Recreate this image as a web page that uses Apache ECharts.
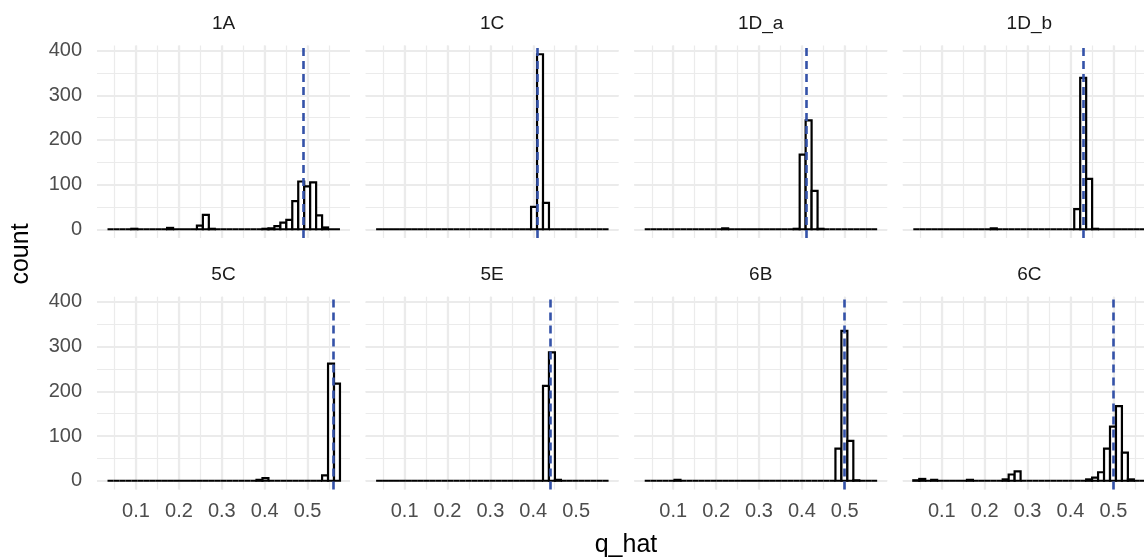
<!DOCTYPE html>
<html>
<head>
<meta charset="utf-8">
<title>q_hat histograms</title>
<script src="https://cdn.jsdelivr.net/npm/echarts@6/dist/echarts.min.js"></script>
<style>
  html, body { margin: 0; padding: 0; background: #fff; overflow: hidden; }
  #chart { width: 1144px; height: 559px; }
</style>
</head>
<body>
<div id="chart"></div>
<script>
// facet labels, row by row
const panels = ['1A', '1C', '1D_a', '1D_b', '5C', '5E', '6B', '6C'];

// 39 equal bins shared by every panel
const binStart = 0.0335;
const binWidth = 0.0139;

// counts per bin
const counts1A = [0,0,0,0,1, 0,0,0,0,0, 3,0,0,0,0, 8,32,1,0,0, 0,0,0,0,0, 0,1,2,7,15, 21,63,107,96,105, 31,4,0,0];
const counts1C = [0,0,0,0,0, 0,0,0,0,0, 0,0,0,0,0, 0,0,0,0,0, 0,0,0,0,0, 0,50,392,59,0, 0,0,0,0,0, 0,0,0,0];
const counts1Da = [0,0,0,0,0, 0,0,0,0,0, 0,0,0,2,0, 0,0,0,0,0, 0,0,0,0,0, 1,167,244,86,1, 0,0,0,0,0, 0,0,0,0];
const counts1Db = [0,0,0,0,0, 0,0,0,0,0, 0,0,0,2,0, 0,0,0,0,0, 0,0,0,0,0, 0,0,45,339,113, 1,0,0,0,0, 0,0,0,0];
const counts5C = [0,0,0,0,0, 0,0,0,0,0, 0,0,0,0,0, 0,0,0,0,0, 0,0,0,0,0, 2,6,0,0,0, 0,0,0,0,0, 0,12,262,217];
const counts5E = [0,0,0,0,0, 0,0,0,0,0, 0,0,0,0,0, 0,0,0,0,0, 0,0,0,0,0, 0,0,0,212,287, 2,0,0,0,0, 0,0,0,0];
const counts6B = [0,0,0,0,0, 2,0,0,0,0, 0,0,0,0,0, 0,0,0,0,0, 0,0,0,0,0, 0,0,0,0,0, 0,0,72,335,89, 1,0,0,0];
const counts6C = [1,4,0,2,0, 0,0,0,0,2, 0,0,0,0,0, 3,14,21,0,0, 0,0,0,0,0, 0,0,0,0,3, 7,19,72,121,167, 63,3,0,0];
const countsList = [counts1A, counts1C, counts1Da, counts1Db, counts5C, counts5E, counts6B, counts6C];

// dashed reference line per panel
const qTrue = [0.494, 0.415, 0.4136, 0.428, 0.555, 0.439, 0.499, 0.503];

// axis ranges and tick labels
const xMin = 0.009, xMax = 0.599;
const yMin = -19.6, yMax = 411.6;
const xTicks = [0.1, 0.2, 0.3, 0.4, 0.5];
const yTicks = [0, 100, 200, 300, 400];

const FONT = "'Liberation Sans', Arial, Helvetica, sans-serif";
const GRID_COLOR = '#ebebeb';
const rowTop = [45.5, 296.7];
const rowHeight = [192.5, 192.8];
const colLeft = 97, colStep = 268.6, panelWidth = 253;

const chart = echarts.init(document.getElementById('chart'));

const grids = [], xAxes = [], yAxes = [], series = [], texts = [];

panels.forEach((name, i) => {
  const r = Math.floor(i / 4), c = i % 4;
  const left = colLeft + c * colStep;
  grids.push({ left: left, top: rowTop[r], width: panelWidth, height: rowHeight[r], outerBoundsMode: 'none' });

  // major x axis (carries the data)
  xAxes.push({
    type: 'value', gridIndex: i, min: xMin, max: xMax, splitNumber: 5,
    axisLine: { show: false }, axisTick: { show: false },
    axisLabel: {
      show: r === 1, showMinLabel: false, showMaxLabel: false,
      color: '#4d4d4d', fontSize: 20, fontFamily: FONT, margin: 12,
      formatter: v => {
        const t = xTicks.find(x => Math.abs(x - v) < 1e-6);
        return t === undefined ? '' : String(t);
      }
    },
    splitLine: { show: true, showMinLine: false, showMaxLine: false, lineStyle: { color: GRID_COLOR, width: 2.2 } }
  });
  // minor x grid
  xAxes.push({
    type: 'value', gridIndex: i, min: xMin, max: xMax, splitNumber: 11,
    axisLine: { show: false }, axisTick: { show: false }, axisLabel: { show: false },
    splitLine: { show: true, showMinLine: false, showMaxLine: false, lineStyle: { color: GRID_COLOR, width: 1.2 } }
  });

  yAxes.push({
    type: 'value', gridIndex: i, min: yMin, max: yMax, splitNumber: 4,
    axisLine: { show: false }, axisTick: { show: false },
    axisLabel: {
      show: c === 0, showMinLabel: false, showMaxLabel: false,
      color: '#4d4d4d', fontSize: 20, fontFamily: FONT, margin: 15,
      formatter: v => {
        const t = yTicks.find(y => Math.abs(y - v) < 1e-6);
        return t === undefined ? '' : String(t);
      }
    },
    splitLine: { show: true, showMinLine: false, showMaxLine: false, lineStyle: { color: GRID_COLOR, width: 2.2 } }
  });
  yAxes.push({
    type: 'value', gridIndex: i, min: yMin, max: yMax, splitNumber: 8,
    axisLine: { show: false }, axisTick: { show: false }, axisLabel: { show: false },
    splitLine: { show: true, showMinLine: false, showMaxLine: false, lineStyle: { color: GRID_COLOR, width: 1.2 } }
  });

  const bins = countsList[i].map((n, k) => [binStart + k * binWidth, binStart + (k + 1) * binWidth, n]);

  series.push({
    type: 'custom', name: name,
    xAxisIndex: 2 * i, yAxisIndex: 2 * i,
    encode: { x: [0, 1], y: 2 },
    data: bins,
    silent: true,
    renderItem: (params, api) => {
      const p0 = api.coord([api.value(0), api.value(2)]);
      const p1 = api.coord([api.value(1), 0]);
      return {
        type: 'rect',
        shape: { x: p0[0], y: p0[1], width: p1[0] - p0[0], height: p1[1] - p0[1] },
        style: { fill: '#ffffff', stroke: '#000000', lineWidth: 2.2 }
      };
    },
    markLine: {
      silent: true, symbol: ['none', 'none'], label: { show: false },
      lineStyle: { color: '#3452a8', width: 2.6, type: [8, 5], opacity: 1 },
      emphasis: { disabled: true },
      data: [{ xAxis: qTrue[i] }]
    }
  });

  texts.push({
    type: 'text', x: left + panelWidth / 2, y: rowTop[r] - 22,
    style: {
      text: name, fontSize: 19, fontFamily: FONT, fill: '#1a1a1a',
      align: 'center', verticalAlign: 'middle', textAlign: 'center', textVerticalAlign: 'middle'
    }
  });
});

texts.push({
  type: 'text', x: 21, y: 254, rotation: Math.PI / 2,
  style: {
    text: 'count', fontSize: 25, fontFamily: FONT, fill: '#000000',
    align: 'center', verticalAlign: 'middle', textAlign: 'center', textVerticalAlign: 'middle'
  }
});
texts.push({
  type: 'text', x: 626, y: 545,
  style: {
    text: 'q_hat', fontSize: 25, fontFamily: FONT, fill: '#000000',
    align: 'center', verticalAlign: 'middle', textAlign: 'center', textVerticalAlign: 'middle'
  }
});

chart.setOption({
  animation: false,
  backgroundColor: '#ffffff',
  grid: grids,
  xAxis: xAxes,
  yAxis: yAxes,
  series: series,
  graphic: { elements: texts }
});

window.addEventListener('resize', () => chart.resize());
</script>
</body>
</html>
